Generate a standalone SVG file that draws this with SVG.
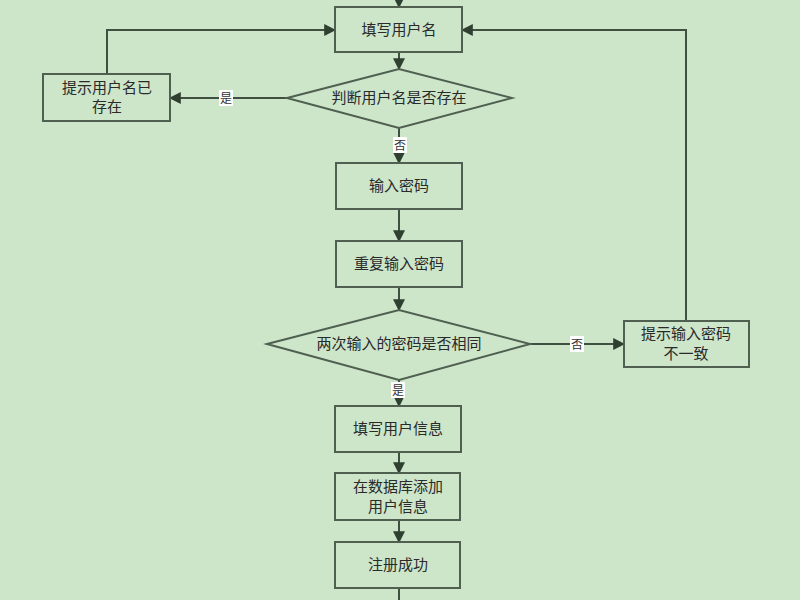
<svg xmlns="http://www.w3.org/2000/svg" width="800" height="600" viewBox="0 0 800 600">
<style>
.n{fill:#cde5c9;stroke:#4f5f50;stroke-width:2}
.t{font-family:"Liberation Serif","Noto Sans CJK SC",serif;font-size:15px;fill:#2a2a2a;text-anchor:middle}
.c{fill:none;stroke:#3f4f40;stroke-width:2}
.l{font-family:"Liberation Serif","Noto Sans CJK SC",serif;font-size:12px;fill:#333;text-anchor:middle}
.lb{fill:#ffffff}
</style>
<defs><marker id="a" viewBox="0 0 10 10" refX="9" refY="5" markerWidth="6" markerHeight="6" orient="auto"><path d="M0,0L10,5L0,10z" fill="#2f3f30"/></marker></defs>
<rect width="800" height="600" fill="#cde5c9"/>
<g id="connectors">
<path class="c" d="M399,0V7" marker-end="url(#a)"/>
<path class="c" d="M399,52V69" marker-end="url(#a)"/>
<path class="c" d="M287,98H170" marker-end="url(#a)"/>
<path class="c" d="M107,74V30H335" marker-end="url(#a)"/>
<path class="c" d="M399,128V163" marker-end="url(#a)"/>
<path class="c" d="M399,209V241" marker-end="url(#a)"/>
<path class="c" d="M399,287V310" marker-end="url(#a)"/>
<path class="c" d="M530,344H624" marker-end="url(#a)"/>
<path class="c" d="M686,321V30H462" marker-end="url(#a)"/>
<path class="c" d="M399,380V406" marker-end="url(#a)"/>
<path class="c" d="M399,452V473" marker-end="url(#a)"/>
<path class="c" d="M399,520V542" marker-end="url(#a)"/>
<path class="c" d="M399,588V600"/>
<rect class="lb" x="219" y="90" width="14" height="16"/><text class="l" x="226" y="103">是</text>
<rect class="lb" x="393" y="137" width="14" height="16"/><text class="l" x="400" y="150">否</text>
<rect class="lb" x="570" y="336" width="14" height="16"/><text class="l" x="577" y="349">否</text>
<rect class="lb" x="391" y="382" width="14" height="16"/><text class="l" x="398" y="395">是</text>
</g>
<g id="n1"><rect class="n" x="335" y="7" width="127" height="45"/><text class="t" x="399" y="35">填写用户名</text></g>
<g id="n2"><polygon class="n" points="287,98 399,69 512,98 399,128"/><text class="t" x="399" y="103">判断用户名是否存在</text></g>
<g id="n3"><rect class="n" x="43" y="74" width="127" height="47"/><text class="t" x="107" y="93">提示用户名已</text><text class="t" x="107" y="112">存在</text></g>
<g id="n4"><rect class="n" x="336" y="163" width="126" height="46"/><text class="t" x="399" y="191">输入密码</text></g>
<g id="n5"><rect class="n" x="336" y="241" width="126" height="46"/><text class="t" x="399" y="269">重复输入密码</text></g>
<g id="n6"><polygon class="n" points="267,344 399,310 530,344 399,380"/><text class="t" x="399" y="349">两次输入的密码是否相同</text></g>
<g id="n7"><rect class="n" x="624" y="321" width="125" height="46"/><text class="t" x="686" y="339">提示输入密码</text><text class="t" x="686" y="359">不一致</text></g>
<g id="n8"><rect class="n" x="335" y="406" width="126" height="46"/><text class="t" x="398" y="434">填写用户信息</text></g>
<g id="n9"><rect class="n" x="335" y="473" width="125" height="47"/><text class="t" x="398" y="492">在数据库添加</text><text class="t" x="398" y="512">用户信息</text></g>
<g id="n10"><rect class="n" x="335" y="542" width="125" height="46"/><text class="t" x="398" y="570">注册成功</text></g>
</svg>
